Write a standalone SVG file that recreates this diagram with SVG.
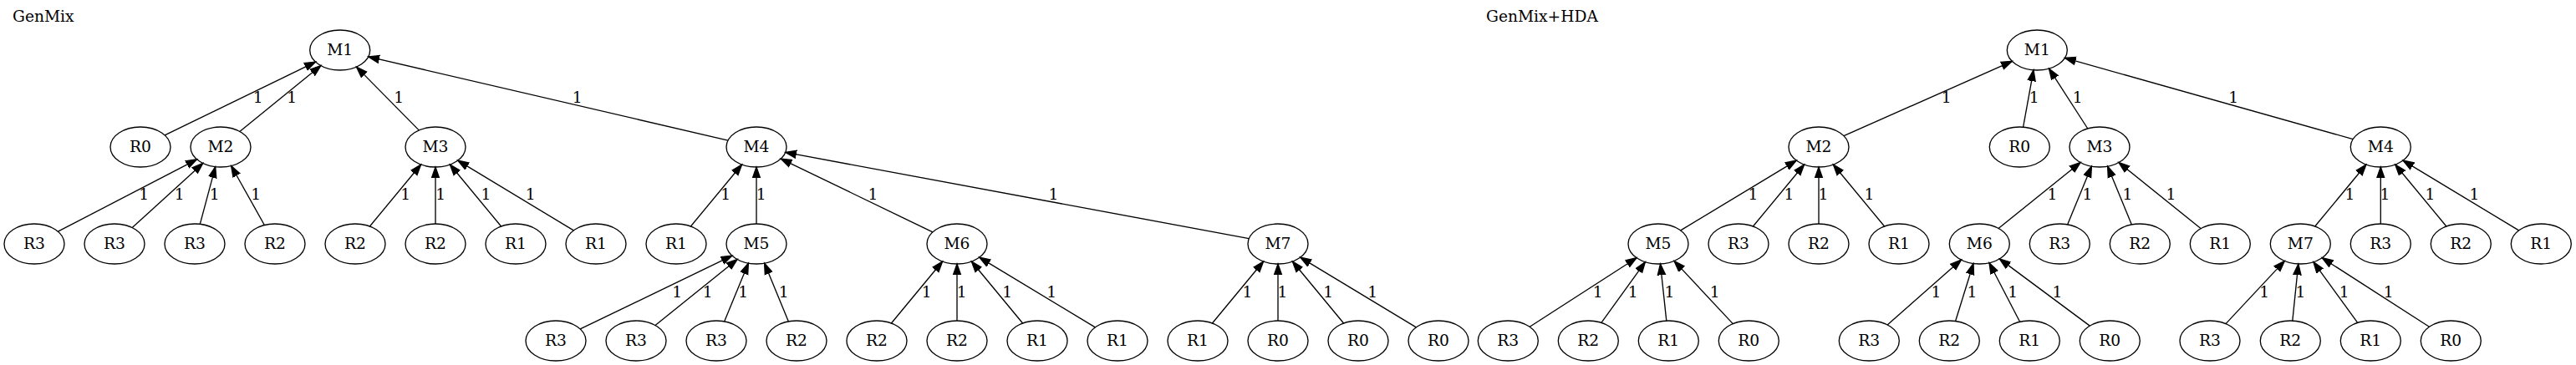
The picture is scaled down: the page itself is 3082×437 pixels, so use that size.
<svg xmlns="http://www.w3.org/2000/svg" width="3082" height="437" viewBox="0 0 3082 437">
<style>
text{font-family:"DejaVu Serif","Liberation Serif",serif;font-size:18.67px;fill:#000}
.n ellipse{fill:none;stroke:#000;stroke-width:1.33}
.n text,.lbl text{text-anchor:middle}
.edges path{fill:none;stroke:#000;stroke-width:1.33;marker-end:url(#ah)}
</style>
<defs>
<marker id="ah" markerWidth="16" markerHeight="12" refX="13.33" refY="5.67" orient="auto" markerUnits="userSpaceOnUse">
<path d="M0,1 L13.33,5.67 L0,10.33 z" fill="#000" stroke="#000" stroke-width="1.33"/>
</marker>
</defs>
<rect width="3082" height="437" fill="#fff"/>
<text x="15" y="26">GenMix</text>
<text x="1778" y="26">GenMix+HDA</text>

<g class="edges">
<path d="M197.1,161.9 L377.6,74.1"/>
<path d="M286.8,157.4 L383.9,78.6"/>
<path d="M501.2,155.9 L426.5,80.1"/>
<path d="M871.0,168.1 L440.7,67.9"/>
<path d="M69.4,277.2 L235.6,190.8"/>
<path d="M158.2,272.6 L242.8,195.4"/>
<path d="M239.3,268.4 L257.7,199.6"/>
<path d="M316.4,269.5 L276.6,198.5"/>
<path d="M442.4,271.0 L503.6,197.0"/>
<path d="M521,268 L521,200"/>
<path d="M599.6,271.0 L538.4,197.0"/>
<path d="M686.3,275.9 L547.7,192.1"/>
<path d="M826.4,271.0 L887.6,197.0"/>
<path d="M905,268 L905,200"/>
<path d="M1115.9,277.9 L934.2,190.1"/>
<path d="M1494.3,285.6 L939.7,182.4"/>
<path d="M694.2,393.9 L875.9,306.1"/>
<path d="M784.0,389.5 L882.1,310.5"/>
<path d="M866.6,384.9 L895.4,315.1"/>
<path d="M943.4,384.9 L914.6,315.1"/>
<path d="M1066.4,387.0 L1127.6,313.0"/>
<path d="M1145,384 L1145,316"/>
<path d="M1223.6,387.0 L1162.4,313.0"/>
<path d="M1310.3,391.9 L1171.7,308.1"/>
<path d="M1450.4,387.0 L1511.6,313.0"/>
<path d="M1529,384 L1529,316"/>
<path d="M1607.6,387.0 L1546.4,313.0"/>
<path d="M1694.3,391.9 L1555.7,308.1"/>

<path d="M2206.0,162.7 L2407.3,73.3"/>
<path d="M2420.6,152.2 L2433.0,83.8"/>
<path d="M2497.8,154.0 L2451.5,82.1"/>
<path d="M2815.2,166.6 L2470.4,69.4"/>
<path d="M2010.7,275.9 L2149.3,192.1"/>
<path d="M2097.4,271.0 L2158.6,197.0"/>
<path d="M2176,268 L2176,200"/>
<path d="M2254.6,271.0 L2193.4,197.0"/>
<path d="M2391.0,273.5 L2489.1,194.5"/>
<path d="M2473.6,268.9 L2502.4,199.1"/>
<path d="M2550.4,268.9 L2521.6,199.1"/>
<path d="M2633.0,273.5 L2534.9,194.5"/>
<path d="M2769.7,271.0 L2830.9,197.0"/>
<path d="M2848.3,268 L2848.3,200"/>
<path d="M2926.9,271.0 L2865.7,197.0"/>
<path d="M3013.6,275.9 L2875.0,192.1"/>
<path d="M1830.2,391.3 L1958.1,308.7"/>
<path d="M1915.9,386.4 L1968.4,313.6"/>
<path d="M1993.8,384.1 L1986.5,315.9"/>
<path d="M2073.3,387.6 L2003.0,312.4"/>
<path d="M2258.1,388.9 L2346.5,311.1"/>
<path d="M2339.6,384.5 L2361.0,315.5"/>
<path d="M2416.6,385.3 L2380.0,314.7"/>
<path d="M2500.3,390.1 L2392.3,309.9"/>
<path d="M2663.0,387.6 L2733.3,312.4"/>
<path d="M2742.8,384.1 L2749.8,315.9"/>
<path d="M2820.7,386.4 L2767.9,313.6"/>
<path d="M2906.4,391.3 L2778.2,308.7"/>
</g>

<g class="lbl">
<text x="308.7" y="123.3">1</text>
<text x="349.3" y="123.3">1</text>
<text x="477.3" y="123.3">1</text>
<text x="690.7" y="123.3">1</text>
<text x="172.3" y="239.3">1</text>
<text x="214.7" y="239.3">1</text>
<text x="256.7" y="239.3">1</text>
<text x="306.3" y="239.3">1</text>
<text x="485.3" y="239.3">1</text>
<text x="527.2" y="239.3">1</text>
<text x="581.5" y="239.3">1</text>
<text x="634.7" y="239.3">1</text>
<text x="868.3" y="239.3">1</text>
<text x="910.7" y="239.3">1</text>
<text x="1044.5" y="239.3">1</text>
<text x="1260.5" y="239.3">1</text>
<text x="810.3" y="355.6">1</text>
<text x="846.7" y="355.6">1</text>
<text x="889.3" y="355.6">1</text>
<text x="937.7" y="355.6">1</text>
<text x="1108.8" y="355.6">1</text>
<text x="1150.8" y="355.6">1</text>
<text x="1205.2" y="355.6">1</text>
<text x="1258.2" y="355.6">1</text>
<text x="1492.5" y="355.6">1</text>
<text x="1534.5" y="355.6">1</text>
<text x="1589.2" y="355.6">1</text>
<text x="1642.2" y="355.6">1</text>

<text x="2328.8" y="123.3">1</text>
<text x="2433.8" y="123.3">1</text>
<text x="2485.8" y="123.3">1</text>
<text x="2672.2" y="123.3">1</text>
<text x="2097.5" y="239.3">1</text>
<text x="2140.5" y="239.3">1</text>
<text x="2181.5" y="239.3">1</text>
<text x="2236.5" y="239.3">1</text>
<text x="2455.5" y="239.3">1</text>
<text x="2497.5" y="239.3">1</text>
<text x="2545.5" y="239.3">1</text>
<text x="2597.5" y="239.3">1</text>
<text x="2811.5" y="239.3">1</text>
<text x="2853.5" y="239.3">1</text>
<text x="2907.5" y="239.3">1</text>
<text x="2960.5" y="239.3">1</text>
<text x="1911.8" y="355.6">1</text>
<text x="1953.8" y="355.6">1</text>
<text x="1997.5" y="355.6">1</text>
<text x="2051.8" y="355.6">1</text>
<text x="2316.5" y="355.6">1</text>
<text x="2359.5" y="355.6">1</text>
<text x="2408.2" y="355.6">1</text>
<text x="2461.5" y="355.6">1</text>
<text x="2709.2" y="355.6">1</text>
<text x="2752.5" y="355.6">1</text>
<text x="2804.8" y="355.6">1</text>
<text x="2857.8" y="355.6">1</text>
</g>

<g id="a_M1" class="n"><ellipse cx="406.7" cy="60" rx="36" ry="24"/><text x="406.7" y="65.7">M1</text></g>
<g id="a_R0" class="n"><ellipse cx="168" cy="176" rx="36" ry="24"/><text x="168" y="181.7">R0</text></g>
<g id="a_M2" class="n"><ellipse cx="264" cy="176" rx="36" ry="24"/><text x="264" y="181.7">M2</text></g>
<g id="a_M3" class="n"><ellipse cx="521" cy="176" rx="36" ry="24"/><text x="521" y="181.7">M3</text></g>
<g id="a_M4" class="n"><ellipse cx="905" cy="176" rx="36" ry="24"/><text x="905" y="181.7">M4</text></g>
<g id="a_R3_1" class="n"><ellipse cx="41" cy="292" rx="36" ry="24"/><text x="41" y="297.7">R3</text></g>
<g id="a_R3_2" class="n"><ellipse cx="137" cy="292" rx="36" ry="24"/><text x="137" y="297.7">R3</text></g>
<g id="a_R3_3" class="n"><ellipse cx="233" cy="292" rx="36" ry="24"/><text x="233" y="297.7">R3</text></g>
<g id="a_R2_1" class="n"><ellipse cx="329" cy="292" rx="36" ry="24"/><text x="329" y="297.7">R2</text></g>
<g id="a_R2_2" class="n"><ellipse cx="425" cy="292" rx="36" ry="24"/><text x="425" y="297.7">R2</text></g>
<g id="a_R2_3" class="n"><ellipse cx="521" cy="292" rx="36" ry="24"/><text x="521" y="297.7">R2</text></g>
<g id="a_R1_1" class="n"><ellipse cx="617" cy="292" rx="36" ry="24"/><text x="617" y="297.7">R1</text></g>
<g id="a_R1_2" class="n"><ellipse cx="713" cy="292" rx="36" ry="24"/><text x="713" y="297.7">R1</text></g>
<g id="a_R1_3" class="n"><ellipse cx="809" cy="292" rx="36" ry="24"/><text x="809" y="297.7">R1</text></g>
<g id="a_M5" class="n"><ellipse cx="905" cy="292" rx="36" ry="24"/><text x="905" y="297.7">M5</text></g>
<g id="a_M6" class="n"><ellipse cx="1145" cy="292" rx="36" ry="24"/><text x="1145" y="297.7">M6</text></g>
<g id="a_M7" class="n"><ellipse cx="1529" cy="292" rx="36" ry="24"/><text x="1529" y="297.7">M7</text></g>
<g id="a_R3_4" class="n"><ellipse cx="665" cy="408" rx="36" ry="24"/><text x="665" y="413.7">R3</text></g>
<g id="a_R3_5" class="n"><ellipse cx="761" cy="408" rx="36" ry="24"/><text x="761" y="413.7">R3</text></g>
<g id="a_R3_6" class="n"><ellipse cx="857" cy="408" rx="36" ry="24"/><text x="857" y="413.7">R3</text></g>
<g id="a_R2_4" class="n"><ellipse cx="953" cy="408" rx="36" ry="24"/><text x="953" y="413.7">R2</text></g>
<g id="a_R2_5" class="n"><ellipse cx="1049" cy="408" rx="36" ry="24"/><text x="1049" y="413.7">R2</text></g>
<g id="a_R2_6" class="n"><ellipse cx="1145" cy="408" rx="36" ry="24"/><text x="1145" y="413.7">R2</text></g>
<g id="a_R1_4" class="n"><ellipse cx="1241" cy="408" rx="36" ry="24"/><text x="1241" y="413.7">R1</text></g>
<g id="a_R1_5" class="n"><ellipse cx="1337" cy="408" rx="36" ry="24"/><text x="1337" y="413.7">R1</text></g>
<g id="a_R1_6" class="n"><ellipse cx="1433" cy="408" rx="36" ry="24"/><text x="1433" y="413.7">R1</text></g>
<g id="a_R0_2" class="n"><ellipse cx="1529" cy="408" rx="36" ry="24"/><text x="1529" y="413.7">R0</text></g>
<g id="a_R0_3" class="n"><ellipse cx="1625" cy="408" rx="36" ry="24"/><text x="1625" y="413.7">R0</text></g>
<g id="a_R0_4" class="n"><ellipse cx="1721" cy="408" rx="36" ry="24"/><text x="1721" y="413.7">R0</text></g>

<g id="b_M1" class="n"><ellipse cx="2437.3" cy="60" rx="36" ry="24"/><text x="2437.3" y="65.7">M1</text></g>
<g id="b_M2" class="n"><ellipse cx="2176" cy="176" rx="36" ry="24"/><text x="2176" y="181.7">M2</text></g>
<g id="b_R0" class="n"><ellipse cx="2416.3" cy="176" rx="36" ry="24"/><text x="2416.3" y="181.7">R0</text></g>
<g id="b_M3" class="n"><ellipse cx="2512" cy="176" rx="36" ry="24"/><text x="2512" y="181.7">M3</text></g>
<g id="b_M4" class="n"><ellipse cx="2848.3" cy="176" rx="36" ry="24"/><text x="2848.3" y="181.7">M4</text></g>
<g id="b_M5" class="n"><ellipse cx="1984" cy="292" rx="36" ry="24"/><text x="1984" y="297.7">M5</text></g>
<g id="b_R3_1" class="n"><ellipse cx="2080" cy="292" rx="36" ry="24"/><text x="2080" y="297.7">R3</text></g>
<g id="b_R2_1" class="n"><ellipse cx="2176" cy="292" rx="36" ry="24"/><text x="2176" y="297.7">R2</text></g>
<g id="b_R1_1" class="n"><ellipse cx="2272" cy="292" rx="36" ry="24"/><text x="2272" y="297.7">R1</text></g>
<g id="b_M6" class="n"><ellipse cx="2368.3" cy="292" rx="36" ry="24"/><text x="2368.3" y="297.7">M6</text></g>
<g id="b_R3_2" class="n"><ellipse cx="2464.3" cy="292" rx="36" ry="24"/><text x="2464.3" y="297.7">R3</text></g>
<g id="b_R2_2" class="n"><ellipse cx="2560.3" cy="292" rx="36" ry="24"/><text x="2560.3" y="297.7">R2</text></g>
<g id="b_R1_2" class="n"><ellipse cx="2656.3" cy="292" rx="36" ry="24"/><text x="2656.3" y="297.7">R1</text></g>
<g id="b_M7" class="n"><ellipse cx="2752.3" cy="292" rx="36" ry="24"/><text x="2752.3" y="297.7">M7</text></g>
<g id="b_R3_3" class="n"><ellipse cx="2848.3" cy="292" rx="36" ry="24"/><text x="2848.3" y="297.7">R3</text></g>
<g id="b_R2_3" class="n"><ellipse cx="2944.3" cy="292" rx="36" ry="24"/><text x="2944.3" y="297.7">R2</text></g>
<g id="b_R1_3" class="n"><ellipse cx="3040.3" cy="292" rx="36" ry="24"/><text x="3040.3" y="297.7">R1</text></g>
<g id="b_R3_4" class="n"><ellipse cx="1804.3" cy="408" rx="36" ry="24"/><text x="1804.3" y="413.7">R3</text></g>
<g id="b_R2_4" class="n"><ellipse cx="1900.3" cy="408" rx="36" ry="24"/><text x="1900.3" y="413.7">R2</text></g>
<g id="b_R1_4" class="n"><ellipse cx="1996.3" cy="408" rx="36" ry="24"/><text x="1996.3" y="413.7">R1</text></g>
<g id="b_R0_2" class="n"><ellipse cx="2092.3" cy="408" rx="36" ry="24"/><text x="2092.3" y="413.7">R0</text></g>
<g id="b_R3_5" class="n"><ellipse cx="2236.3" cy="408" rx="36" ry="24"/><text x="2236.3" y="413.7">R3</text></g>
<g id="b_R2_5" class="n"><ellipse cx="2332.3" cy="408" rx="36" ry="24"/><text x="2332.3" y="413.7">R2</text></g>
<g id="b_R1_5" class="n"><ellipse cx="2428.3" cy="408" rx="36" ry="24"/><text x="2428.3" y="413.7">R1</text></g>
<g id="b_R0_3" class="n"><ellipse cx="2524.3" cy="408" rx="36" ry="24"/><text x="2524.3" y="413.7">R0</text></g>
<g id="b_R3_6" class="n"><ellipse cx="2644" cy="408" rx="36" ry="24"/><text x="2644" y="413.7">R3</text></g>
<g id="b_R2_6" class="n"><ellipse cx="2740.3" cy="408" rx="36" ry="24"/><text x="2740.3" y="413.7">R2</text></g>
<g id="b_R1_6" class="n"><ellipse cx="2836.3" cy="408" rx="36" ry="24"/><text x="2836.3" y="413.7">R1</text></g>
<g id="b_R0_4" class="n"><ellipse cx="2932.3" cy="408" rx="36" ry="24"/><text x="2932.3" y="413.7">R0</text></g>
</svg>
